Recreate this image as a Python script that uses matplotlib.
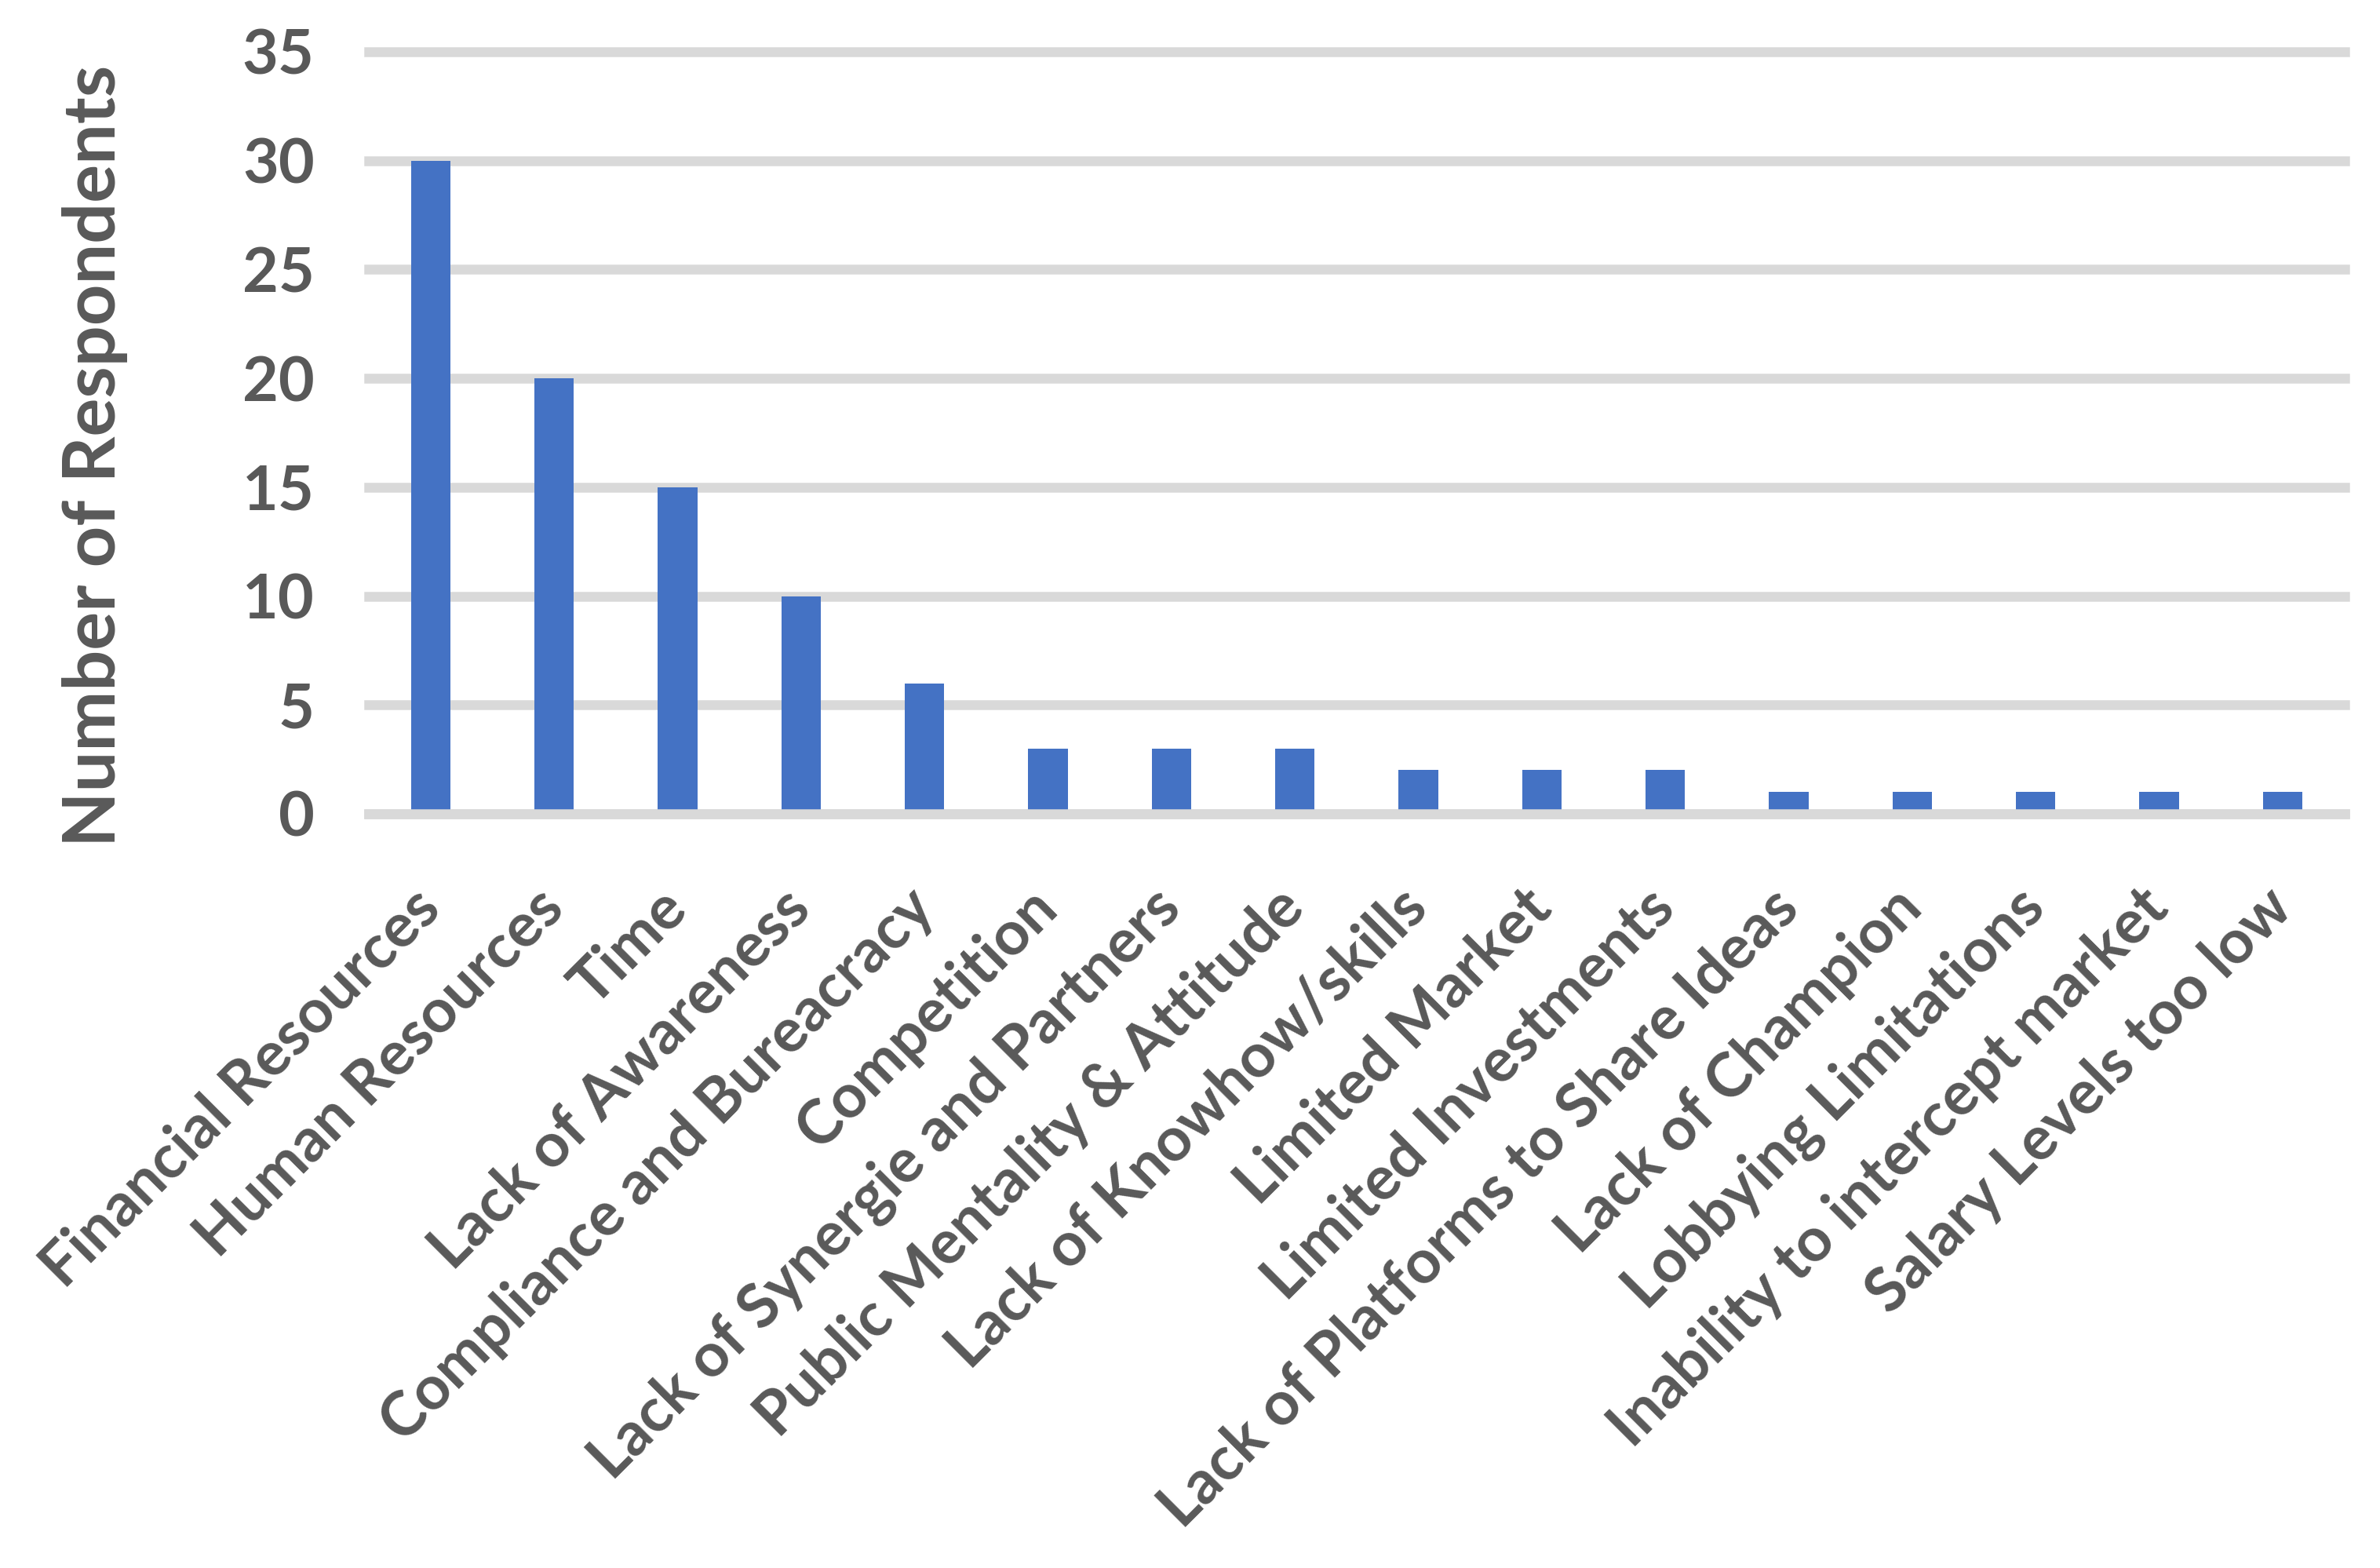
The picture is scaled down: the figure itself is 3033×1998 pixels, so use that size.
import matplotlib
matplotlib.use("Agg")
import matplotlib.pyplot as plt
import numpy as np

# barriers and number of respondents
categories = [
    "Financial Resources", "Human Resources", "Time", "Lack of Awareness",
    "Compliance and Bureacracy", "Competition", "Lack of Synergie and Partners",
    "Public Mentality & Attitude", "Lack of Knowhow/skills", "Limited Market",
    "Limited Investments", "Lack of Platforms to Share Ideas", "Lack of Champion",
    "Lobbying Limitations", "Inability to intercept market", "Salary Levels too low",
]
respondents = [30, 20, 15, 10, 6, 3, 3, 3, 2, 2, 2, 1, 1, 1, 1, 1]
y_ticks = [0, 5, 10, 15, 20, 25, 30, 35]

text_col = "#595959"
grid_col = "#D9D9D9"
bar_col = "#4472C4"

plt.rcParams['font.family'] = ['Lato', 'DejaVu Sans']
plt.rcParams['font.weight'] = 'bold'

fig = plt.figure(figsize=(30.33, 19.98), dpi=100)
ax = fig.add_axes([0.155, 0.481, 0.830, 0.486])

x = np.arange(len(categories))
ax.bar(x, respondents, width=0.32, color=bar_col, zorder=2)

ax.set_xlim(-0.5, len(categories) - 0.5)
ax.set_ylim(0, 35)
ax.set_yticks(y_ticks)
ax.yaxis.grid(True, color=grid_col, linewidth=9, zorder=0)
ax.set_axisbelow(True)
for gl in ax.get_ygridlines():
    gl.set_clip_on(False)

for side in ["top", "right", "left"]:
    ax.spines[side].set_visible(False)
ax.spines["bottom"].set_color(grid_col)
ax.spines["bottom"].set_linewidth(9)
ax.spines["bottom"].set_zorder(3)

ax.tick_params(axis="both", length=0, colors=text_col)
ax.tick_params(axis="y", labelsize=57, pad=50)
ax.set_xticks(x)
ax.set_xticklabels(categories, rotation=45, ha="right", va="center",
                   rotation_mode="anchor", fontsize=56, color=text_col)
ax.tick_params(axis="x", pad=78)

ax.set_ylabel("Number of Respondents", fontsize=66, color=text_col, fontweight="bold")
ax.yaxis.set_label_coords(-0.122, 0.47)

fig.savefig("out.png", dpi=100)
